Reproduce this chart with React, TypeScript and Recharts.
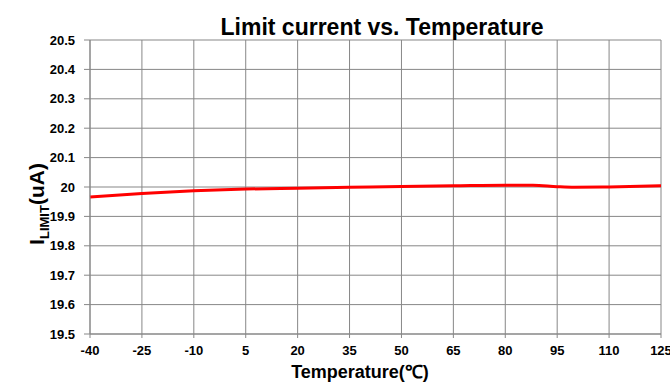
import { CartesianGrid, Line, LineChart, XAxis, YAxis } from "recharts";

// temperatura (℃) e corrente limite (uA)
const temps = [-40, -25, -10, 5, 20, 35, 50, 65, 80, 88, 95, 100, 110, 125];
const limitCurrent = [19.966, 19.978, 19.987, 19.993, 19.996, 19.999, 20.002, 20.004, 20.006, 20.006, 20.001, 19.999, 20.0, 20.004];
const xTicks = [-40, -25, -10, 5, 20, 35, 50, 65, 80, 95, 110, 125];
const yTicks = [19.5, 19.6, 19.7, 19.8, 19.9, 20, 20.1, 20.2, 20.3, 20.4, 20.5];

const data = temps.map((t, i) => ({ t, i: limitCurrent[i] }));

const FONT = "'Liberation Sans', Arial, sans-serif";
const GRID = "#878787";

const YLabel = () => (
  <text
    x={0}
    y={0}
    transform="translate(44, 204) rotate(-90)"
    textAnchor="middle"
    fontFamily={FONT}
    fontWeight="bold"
    fontSize={21}
    fill="#000"
  >
    I
    <tspan fontSize={13} dy={5}>LIMIT</tspan>
    <tspan dy={-5}>(uA)</tspan>
  </text>
);

export default function App() {
  return (
    <div style={{ position: "absolute", left: 0, top: 0, width: 670, height: 390, background: "#fff" }}>
      <LineChart
        width={670}
        height={390}
        data={data}
        margin={{ top: 40, right: 9, bottom: 36, left: 0 }}
      >
        <text
          x={382}
          y={35}
          textAnchor="middle"
          fontFamily={FONT}
          fontWeight="bold"
          fontSize={23}
          fill="#000"
        >
          Limit current vs. Temperature
        </text>
        <text
          x={360}
          y={378}
          textAnchor="middle"
          fontFamily={FONT}
          fontWeight="bold"
          fontSize={18}
          fill="#000"
        >
          Temperature(℃)
        </text>
        <CartesianGrid stroke={GRID} strokeWidth={1} />
        <XAxis
          dataKey="t"
          type="number"
          domain={[-40, 125]}
          ticks={xTicks}
          interval={0}
          stroke={GRID}
          tickLine={{ stroke: GRID }}
          tickSize={4}
          tickMargin={8}
          tick={{ fill: "#000", fontFamily: FONT, fontWeight: "bold", fontSize: 13 }}
          height={20}
        />
        <YAxis
          type="number"
          domain={[19.5, 20.5]}
          ticks={yTicks}
          interval={0}
          width={90}
          stroke={GRID}
          tickLine={{ stroke: GRID }}
          tickSize={6}
          tickMargin={9}
          tickFormatter={(v: number) => String(Number(v.toFixed(1)))}
          tick={{ fill: "#000", fontFamily: FONT, fontWeight: "bold", fontSize: 13 }}
          label={<YLabel />}
        />
        <Line
          type="monotone"
          dataKey="i"
          stroke="#ff0000"
          strokeWidth={3}
          dot={false}
          isAnimationActive={false}
        />
      </LineChart>
    </div>
  );
}
